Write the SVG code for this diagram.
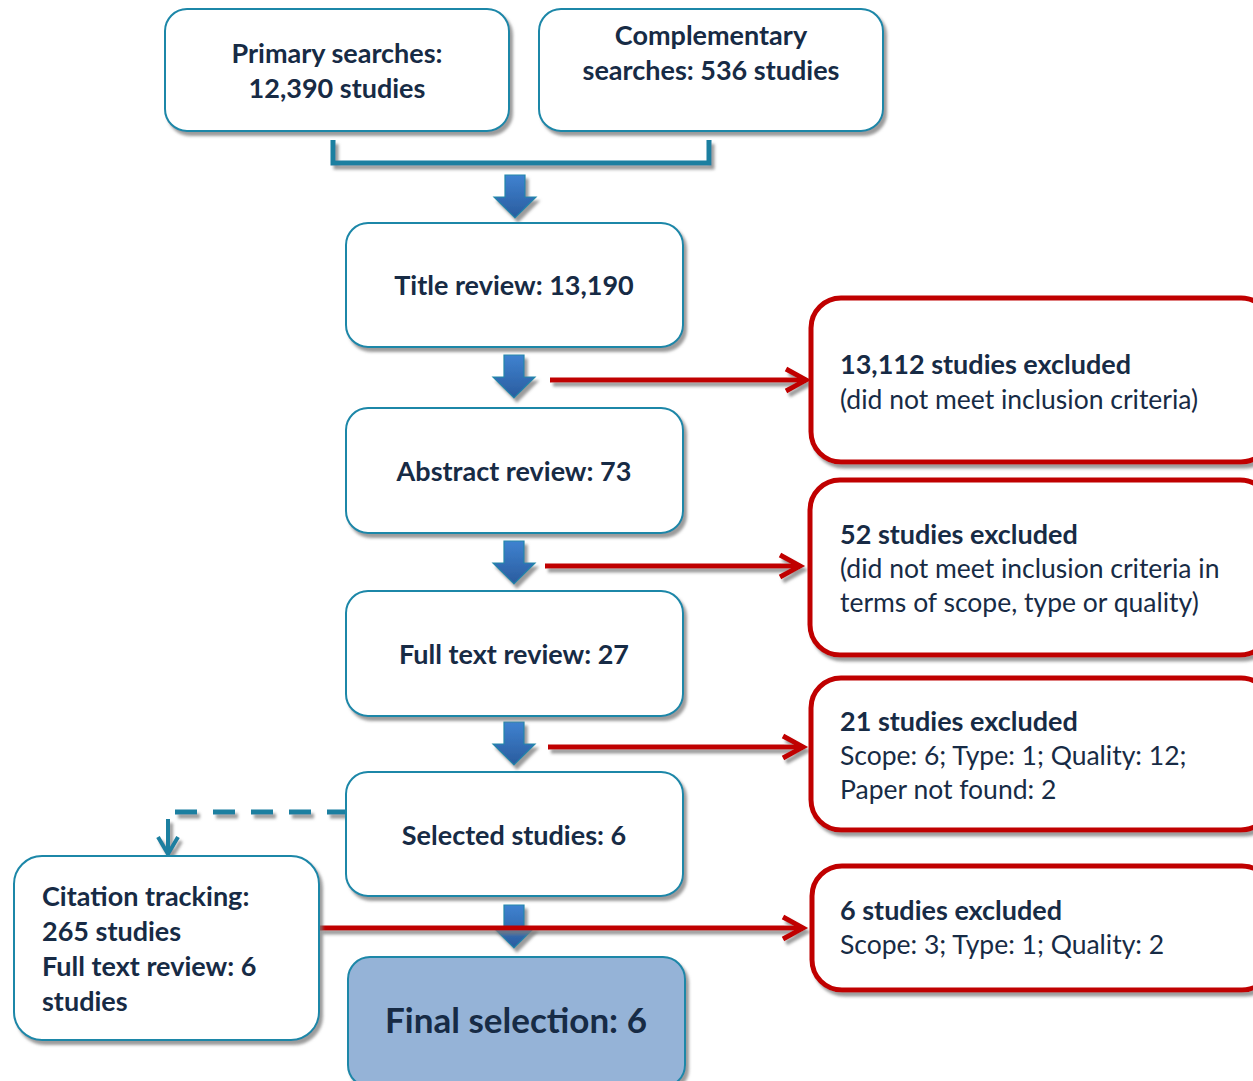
<svg xmlns="http://www.w3.org/2000/svg" width="1253" height="1081" viewBox="0 0 1253 1081">
<defs>
<filter id="sh" filterUnits="userSpaceOnUse" x="0" y="0" width="1253" height="1081">
<feDropShadow dx="3" dy="4" stdDeviation="1.5" flood-color="#7a7a7a" flood-opacity="0.75"/>
</filter>
<linearGradient id="bg" x1="0" y1="0" x2="0" y2="1">
<stop offset="0" stop-color="#3f82d0"/>
<stop offset="1" stop-color="#2a5c9e"/>
</linearGradient>
<g id="darr">
<path d="M-10,0 H10 V22 H21 L0,43 L-21,22 H-10 Z" fill="url(#bg)" stroke="#2288aa" stroke-width="1.2"/>
</g>
</defs>
<style>
.tb{fill:#fff;stroke:#1c87a8;stroke-width:2}
.rb{fill:#fff;stroke:#c00000;stroke-width:5}
.t{font-family:Lato,"Liberation Sans",sans-serif;fill:#172b45}
.b{font-weight:bold;font-size:27px}
.r{font-size:26.5px}
.c{text-anchor:middle}
.red{stroke:#c00000;stroke-width:5;fill:none}
</style>

<g id="connectors">
<path d="M333,140 V163 H709 V140" fill="none" stroke="#1c7fa0" stroke-width="5" filter="url(#sh)"/>
<g filter="url(#sh)">
<use href="#darr" x="515" y="175"/>
<use href="#darr" x="514" y="355"/>
<use href="#darr" x="514" y="541"/>
<use href="#darr" x="514" y="722"/>
<use href="#darr" x="514" y="905"/>
</g>
<g filter="url(#sh)">
<path class="red" d="M550,380 H804"/>
<path class="red" d="M786,369 L806,380 L786,391"/>
<path class="red" d="M545,566 H798"/>
<path class="red" d="M780,555 L800,566 L780,577"/>
<path class="red" d="M548,747 H801"/>
<path class="red" d="M783,736 L803,747 L783,758"/>
<path class="red" d="M319,928 H801"/>
<path class="red" d="M783,917 L803,928 L783,939"/>
</g>
<g filter="url(#sh)">
<path d="M175,812 H347" fill="none" stroke="#1c7fa0" stroke-width="5" stroke-dasharray="22,16"/>
<path d="M168,819 V854" fill="none" stroke="#1c7fa0" stroke-width="4"/>
<path d="M158,837 L168,854 L178,837" fill="none" stroke="#1c7fa0" stroke-width="4"/>
</g>
</g>

<g id="primary">
<rect class="tb" x="165" y="9" width="344" height="122" rx="22" filter="url(#sh)"/>
<text class="t b c" x="337" y="63">Primary searches:</text>
<text class="t b c" x="337" y="98">12,390 studies</text>
</g>
<g id="complementary">
<rect class="tb" x="539" y="9" width="344" height="122" rx="22" filter="url(#sh)"/>
<text class="t b c" x="711" y="45">Complementary</text>
<text class="t b c" x="711" y="80">searches: 536 studies</text>
</g>
<g id="title">
<rect class="tb" x="346" y="223" width="337" height="124" rx="22" filter="url(#sh)"/>
<text class="t b c" x="514" y="295">Title review: 13,190</text>
</g>
<g id="abstract">
<rect class="tb" x="346" y="408" width="337" height="125" rx="22" filter="url(#sh)"/>
<text class="t b c" x="514" y="481">Abstract review: 73</text>
</g>
<g id="fulltext">
<rect class="tb" x="346" y="591" width="337" height="125" rx="22" filter="url(#sh)"/>
<text class="t b c" x="514" y="664">Full text review: 27</text>
</g>
<g id="selected">
<rect class="tb" x="346" y="772" width="337" height="124" rx="22" filter="url(#sh)"/>
<text class="t b c" x="514" y="845">Selected studies: 6</text>
</g>
<g id="citation">
<rect class="tb" x="14" y="856" width="305" height="184" rx="28" filter="url(#sh)"/>
<text class="t b" x="42" y="906">Citation tracking:</text>
<text class="t b" x="42" y="941">265 studies</text>
<text class="t b" x="42" y="976">Full text review: 6</text>
<text class="t b" x="42" y="1011">studies</text>
</g>
<g id="final">
<rect x="348" y="957" width="337" height="130" rx="22" fill="#95b3d7" stroke="#1c87a8" stroke-width="2" filter="url(#sh)"/>
<text class="t c" x="516" y="1033" font-weight="bold" font-size="35">Final selection: 6</text>
</g>
<g id="excl1">
<rect class="rb" x="811" y="298" width="460" height="164" rx="30" filter="url(#sh)"/>
<text class="t b" x="840" y="374">13,112 studies excluded</text>
<text class="t r" x="840" y="409">(did not meet inclusion criteria)</text>
</g>
<g id="excl2">
<rect class="rb" x="810" y="480" width="460" height="175" rx="30" filter="url(#sh)"/>
<text class="t b" x="840" y="544">52 studies excluded</text>
<text class="t r" x="840" y="578">(did not meet inclusion criteria in</text>
<text class="t r" x="840" y="612">terms of scope, type or quality)</text>
</g>
<g id="excl3">
<rect class="rb" x="811" y="678" width="460" height="152" rx="30" filter="url(#sh)"/>
<text class="t b" x="840" y="731">21 studies excluded</text>
<text class="t r" x="840" y="765">Scope: 6; Type: 1; Quality: 12;</text>
<text class="t r" x="840" y="799">Paper not found: 2</text>
</g>
<g id="excl4">
<rect class="rb" x="812" y="866" width="460" height="124" rx="30" filter="url(#sh)"/>
<text class="t b" x="840" y="920">6 studies excluded</text>
<text class="t r" x="840" y="954">Scope: 3; Type: 1; Quality: 2</text>
</g>
</svg>
